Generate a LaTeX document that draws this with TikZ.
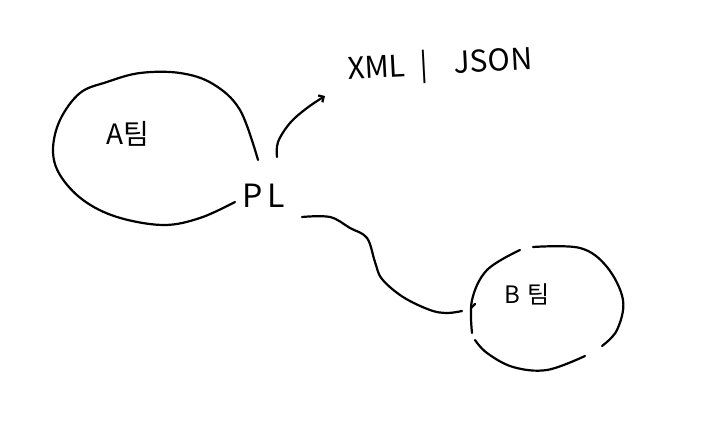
\documentclass[tikz,border=0pt]{standalone}
\usepackage{fontspec}
\setmainfont{Noto Sans CJK KR}
\usetikzlibrary{arrows.meta}
\tikzset{
  pen/.style={line width=2.2pt, line cap=round, line join=round, black},
  lbl/.style={inner sep=0pt, font=\fontsize{28}{30}\selectfont},
}
\begin{document}
\begin{tikzpicture}[x=1pt,y=-1pt]
\useasboundingbox (0,0) rectangle (726,435);
% labels
\node[lbl] (A) at (128,134) {A팀};
\node[lbl, font=\fontsize{32}{34}\selectfont] (PL) at (264,196) {P\hspace{5pt}L};
\node[lbl, rotate=3, font=\fontsize{30}{32}\selectfont] (X) at (440,66) {XML\hspace{15pt}|\hspace{26pt}JSON};
\node[lbl, font=\fontsize{24}{26}\selectfont] (B) at (527,294) {B\hspace{8pt}팀};
% team A blob
\draw[pen] plot[smooth, tension=0.6] coordinates {(258,160) (240,110) (213,84) (180,73) (140,73) (107,82) (80,93) (60,120) (53,150) (60,175) (83,200) (117,217) (163,225) (200,218) (235,202)};
% team B blob (broken)
\draw[pen] plot[smooth, tension=0.6] coordinates {(472,333) (472,300) (487,270) (520,250)};
\draw[pen] (475,304) -- (471,308);
\draw[pen] plot[smooth, tension=0.6] coordinates {(533,247) (580,248) (607,267) (623,300) (617,330) (602,346)};
\draw[pen] plot[smooth, tension=0.6] coordinates {(585,356) (547,370) (513,367) (487,353) (475,340)};
% connectors
\coordinate (pa) at (277,157);
\coordinate (xa) at (325,96);
\draw[pen, -{Straight Barb[length=4pt,width=8pt]}] plot[smooth, tension=0.6] coordinates {(pa) (278,142) (290,123) (307,108) (xa)};
\coordinate (pb) at (302,217);
\coordinate (bb) at (462,311);
\draw[pen] plot[smooth, tension=0.6] coordinates {(pb) (330,217) (350,228) (367,238) (375,262) (382,279) (403,297) (430,310) (447,313) (bb)};
\end{tikzpicture}
\end{document}
